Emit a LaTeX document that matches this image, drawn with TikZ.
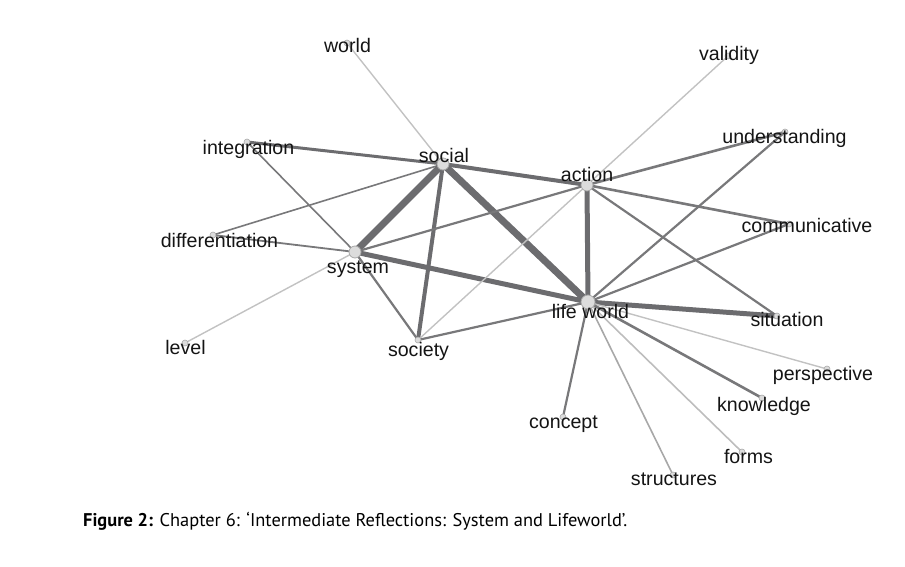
\documentclass[tikz,border=0pt]{standalone}
\usepackage{fontspec}
\setmainfont{Liberation Sans}
\newfontfamily\capfont{PT Sans}
\definecolor{edark}{HTML}{6C6C6F}
\definecolor{emid}{HTML}{78787A}
\definecolor{elight}{HTML}{C2C2C2}
\definecolor{elm}{HTML}{A8A8A8}
\definecolor{dotfill}{HTML}{DCDCDC}
\definecolor{dotdraw}{HTML}{A8A8A8}
\definecolor{txt}{HTML}{141414}
\begin{document}
\begin{tikzpicture}[x=1pt,y=-1pt,
  bigdot/.style={circle,fill=dotfill,draw=dotdraw,line width=0.8pt,minimum size=12pt,inner sep=0pt},
  smalldot/.style={circle,fill=dotfill,draw=dotdraw,line width=0.6pt,minimum size=6pt,inner sep=0pt},
  lab/.style={anchor=base,inner sep=0pt,text=txt,font=\fontsize{19.6}{22}\selectfont},
  ew7/.style={draw=edark,line width=7pt},
  ew5/.style={draw=edark,line width=5pt},
  ew4/.style={draw=edark,line width=4pt},
  ew3/.style={draw=edark,line width=3pt},
  ew2/.style={draw=emid,line width=2.2pt},
  elm1/.style={draw=elm,line width=1.6pt},
  el1/.style={draw=elight,line width=1.4pt}]
\useasboundingbox (0,0) rectangle (905,567);
% dots
\coordinate (cworld) at (347,43);
\coordinate (cintegration) at (247,142);
\coordinate (csocial) at (443,164);
\coordinate (cvalidity) at (728,56);
\coordinate (cunderstanding) at (785,132);
\coordinate (caction) at (587,185);
\coordinate (ccommunicative) at (789,224);
\coordinate (cdifferentiation) at (213,235);
\coordinate (csystem) at (355,252);
\coordinate (clifeworld) at (588,302);
\coordinate (csituation) at (777,316);
\coordinate (clevel) at (185,343);
\coordinate (csociety) at (418,340);
\coordinate (cperspective) at (827,369);
\coordinate (cknowledge) at (762,398);
\coordinate (cconcept) at (563,417);
\coordinate (cforms) at (742,452);
\coordinate (cstructures) at (673,475);
% edges
\draw[el1] (cworld) -- (csocial);
\draw[ew3] (cintegration) -- (csocial);
\draw[ew2,line width=1.6pt] (cintegration) -- (csystem);
\draw[ew2,line width=1.6pt] (csocial) -- (cdifferentiation);
\draw[ew2,line width=1.8pt] (cdifferentiation) -- (csystem);
\draw[el1] (clevel) -- (csystem);
\draw[ew7] (csocial) -- (csystem);
\draw[ew4] (csocial) -- (csociety);
\draw[ew7] (csocial) -- (clifeworld);
\draw[ew4] (csocial) -- (caction);
\draw[ew2] (csystem) -- (csociety);
\draw[ew2] (csystem) -- (caction);
\draw[ew5] (csystem) -- (clifeworld);
\draw[el1] (csociety) -- (caction);
\draw[ew2] (csociety) -- (clifeworld);
\draw[el1] (caction) -- (cvalidity);
\draw[ew2,line width=2.6pt] (caction) -- (cunderstanding);
\draw[ew2,line width=2.6pt] (caction) -- (ccommunicative);
\draw[ew2] (caction) -- (csituation);
\draw[ew5] (caction) -- (clifeworld);
\draw[ew2] (clifeworld) -- (cunderstanding);
\draw[ew2] (clifeworld) -- (ccommunicative);
\draw[ew5] (clifeworld) -- (csituation);
\draw[el1] (clifeworld) -- (cperspective);
\draw[ew2,line width=2.6pt] (clifeworld) -- (cknowledge);
\draw[elm1,draw=elight!80!elm] (clifeworld) -- (cforms);
\draw[elm1] (clifeworld) -- (cstructures);
\draw[ew2] (clifeworld) -- (cconcept);
% dot nodes
\node[smalldot] (world) at (cworld) {};
\node[smalldot] (integration) at (cintegration) {};
\node[bigdot] (social) at (csocial) {};
\node[smalldot] (validity) at (cvalidity) {};
\node[smalldot] (understanding) at (cunderstanding) {};
\node[bigdot] (action) at (caction) {};
\node[smalldot] (communicative) at (ccommunicative) {};
\node[smalldot] (differentiation) at (cdifferentiation) {};
\node[bigdot] (system) at (csystem) {};
\node[bigdot,minimum size=14pt] (lifeworld) at (clifeworld) {};
\node[smalldot] (situation) at (csituation) {};
\node[smalldot] (level) at (clevel) {};
\node[smalldot] (society) at (csociety) {};
\node[smalldot] (perspective) at (cperspective) {};
\node[smalldot] (knowledge) at (cknowledge) {};
\node[smalldot] (concept) at (cconcept) {};
\node[smalldot] (forms) at (cforms) {};
\node[smalldot] (structures) at (cstructures) {};
% labels
\node[lab] (lworld) at (347.5,53) {world};
\node[lab] (lintegration) at (248.5,154) {integration};
\node[lab] (lsocial) at (444,162) {social};
\node[lab] (lvalidity) at (729,61) {validity};
\node[lab] (lunderstanding) at (784.5,144) {understanding};
\node[lab] (laction) at (587,181) {action};
\node[lab] (lcommunicative) at (807,232) {communicative};
\node[lab] (ldifferentiation) at (219.5,247) {differentiation};
\node[lab] (lsystem) at (358,273) {system};
\node[lab] (llifeworld) at (590.5,318) {life world};
\node[lab] (lsituation) at (787,326) {situation};
\node[lab] (llevel) at (185.5,354) {level};
\node[lab] (lsociety) at (418.5,356) {society};
\node[lab] (lperspective) at (823,380) {perspective};
\node[lab] (lknowledge) at (764,411) {knowledge};
\node[lab] (lconcept) at (563.5,428) {concept};
\node[lab] (lforms) at (748.5,463) {forms};
\node[lab] (lstructures) at (674,485) {structures};
% caption
\node[anchor=base west,inner sep=0pt,text=black,font=\capfont\fontsize{18.4}{22}\selectfont] (caption) at (83,526) {\textbf{Figure 2:} Chapter 6: ‘Intermediate Reflections: System and Lifeworld’.};
\end{tikzpicture}
\end{document}
